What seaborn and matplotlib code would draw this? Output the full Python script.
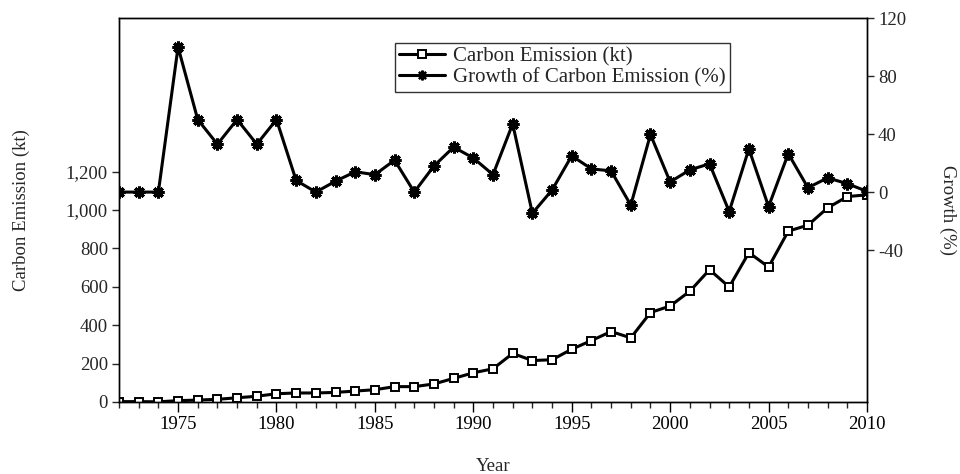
import matplotlib
matplotlib.use("Agg")
import matplotlib.pyplot as plt
import seaborn as sns
import pandas as pd
from matplotlib.ticker import MultipleLocator, FuncFormatter
from matplotlib.lines import Line2D

sns.set_theme(style="white")
plt.rcParams['font.family'] = ['Liberation Serif', 'DejaVu Serif']

years = list(range(1972, 2011))
emission = [2, 2, 1, 7, 10, 14, 22, 30, 43, 47, 47, 50, 57, 64, 80, 80, 94, 123, 152, 173,
            253, 216, 220, 275, 320, 367, 334, 466, 500, 577, 689, 599, 778, 703, 890, 921,
            1011, 1070, 1079]
growth = [0, 0, 0, 100, 50, 33, 50, 33, 50, 8, 0, 7.5, 14, 12, 22, 0, 18, 31, 23.5, 12,
          47, -14.6, 1.4, 25, 16, 14.6, -9, 39.7, 7, 15.3, 19.5, -13.4, 29.8, -10, 26.5, 3,
          9.8, 5.8, 0.5]
left_ticks = [0, 200, 400, 600, 800, 1000, 1200]
right_ticks = [-40, 0, 40, 80, 120]

df = pd.DataFrame({"Year": years, "Emission": emission, "Growth": growth})

fig = plt.figure(figsize=(9.6, 4.74), dpi=100)
ax = fig.add_axes([119/960, 1-402/474, (867-119)/960, (402-18)/474])
ax2 = ax.twinx()

sns.lineplot(data=df, x="Year", y="Emission", ax=ax, color="black", linewidth=2.2,
             marker="s", markersize=5.5, markerfacecolor="white", markeredgecolor="black",
             markeredgewidth=1.4)
sns.lineplot(data=df, x="Year", y="Growth", ax=ax2, color="black", linewidth=2.2,
             marker=(8, 2, 0), markersize=8.5, markeredgecolor="black", markeredgewidth=2.2)

ax.set_xlim(1972, 2010)
ax.set_ylim(0, 2000)
ax2.set_ylim(-144.7, 120)
ax.set_yticks(left_ticks)
ax2.set_yticks(right_ticks)
ax.yaxis.set_major_formatter(FuncFormatter(lambda v, p: f"{int(v):,}"))
ax2.yaxis.set_major_formatter(FuncFormatter(lambda v, p: f"{int(v)}"))
ax.xaxis.set_major_locator(MultipleLocator(5))
ax.xaxis.set_minor_locator(MultipleLocator(1))

fs = 13.5
for a in (ax, ax2):
    for s in a.spines.values():
        s.set_color("black")
        s.set_linewidth(1.0)
ax.tick_params(axis="x", which="major", direction="out", length=7, width=1, labelsize=fs,
               bottom=True, colors="black", pad=3)
ax.tick_params(axis="x", which="minor", direction="out", length=4, width=1, bottom=True)
ax.tick_params(axis="y", direction="out", length=5, width=1, labelsize=fs, left=True, pad=3)
ax2.tick_params(axis="y", direction="out", length=5, width=1, labelsize=fs, right=True, pad=3)

ax.set_xlabel("Year", fontsize=fs, labelpad=18)
ax.set_ylabel("Carbon Emission (kt)", fontsize=fs, labelpad=26)
ax2.set_ylabel("Growth (%)", fontsize=fs, rotation=270, labelpad=36)

handles = [
    Line2D([], [], color="black", linewidth=2.2, marker="s", markersize=5.5,
           markerfacecolor="white", markeredgecolor="black", markeredgewidth=1.4),
    Line2D([], [], color="black", linewidth=2.2, marker=(8, 2, 0), markersize=7,
           markeredgecolor="black", markeredgewidth=1.6),
]
labels = ["Carbon Emission (kt)", "Growth of Carbon Emission (%)"]
leg = ax2.legend(handles, labels, loc="upper left", bbox_to_anchor=(0.369, 0.935),
                 frameon=True, fancybox=False, edgecolor="black", fontsize=15,
                 handlelength=2.2, borderpad=0.2, labelspacing=0.05, handletextpad=0.4,
                 borderaxespad=0)
leg.get_frame().set_linewidth(1.0)

fig.savefig("out.png", dpi=100)
